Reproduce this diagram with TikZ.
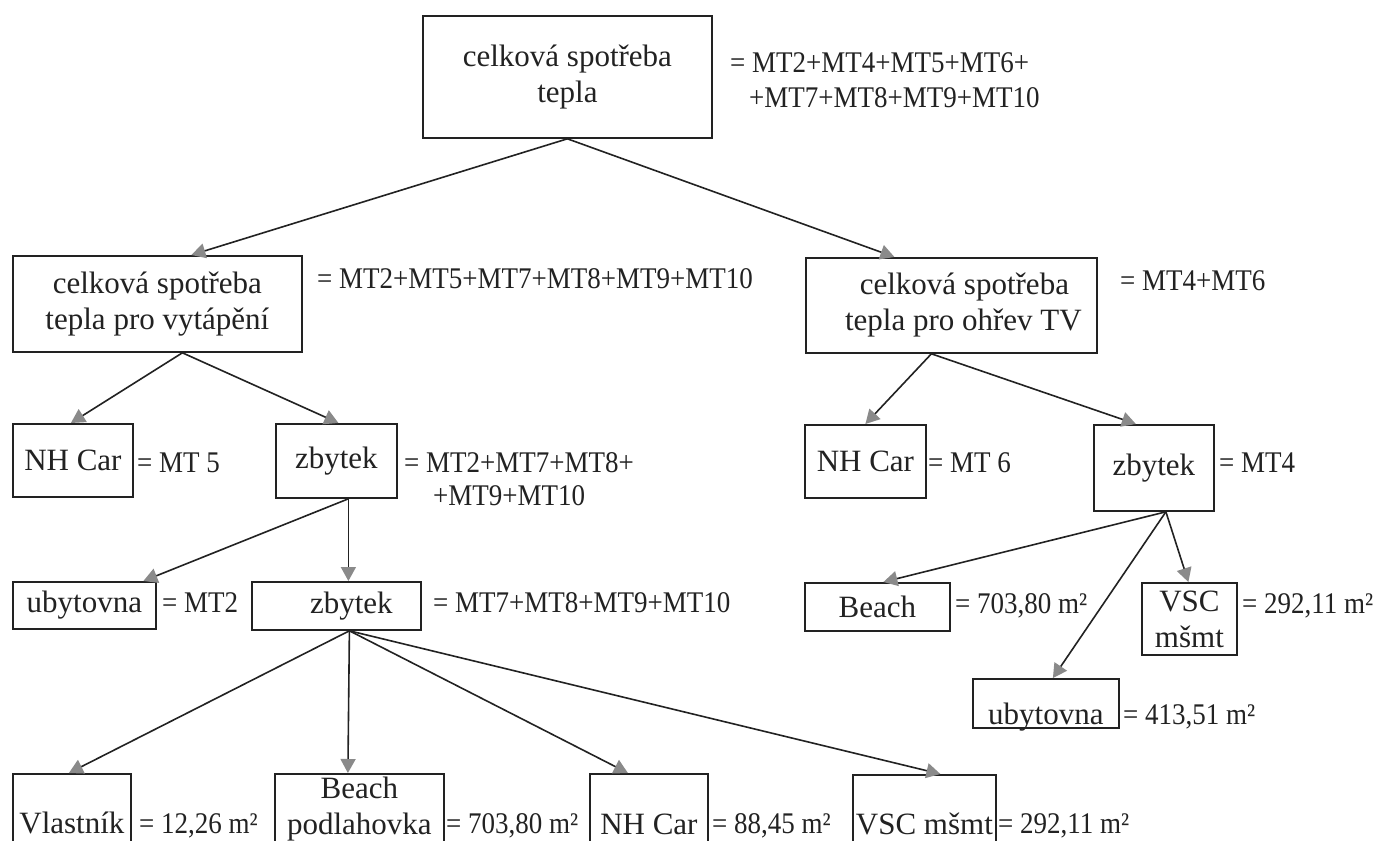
\documentclass[tikz,border=0pt]{standalone}
\usepackage{fontspec}
\setmainfont{Liberation Serif}
\newfontfamily\formfont{Liberation Serif}[FakeStretch=0.9]
\usetikzlibrary{arrows.meta}
\definecolor{tipgray}{HTML}{8A8A8A}
\definecolor{ink}{HTML}{222222}
\tikzset{
  box/.style={draw=ink, line width=1.8pt, inner sep=0pt, align=center, anchor=north west,
    text=ink, font=\fontsize{31pt}{36pt}\selectfont},
  bx/.style 2 args={box, minimum width=#1pt, minimum height=#2pt},
  form/.style={anchor=base west, inner sep=0pt, text=ink, font=\formfont\fontsize{30pt}{35pt}\selectfont},
  link/.style={draw=ink, line width=1.6pt, -{Triangle[length=14pt,width=15pt,color=tipgray]}}
}
\begin{document}
\begin{tikzpicture}[x=1pt,y=-1pt]
\useasboundingbox (0,0) rectangle (1377,841);
\fill[white] (0,0) rectangle (1377,841);
\clip (0,0) rectangle (1377,841);
% boxes
\node[bx={289}{122}] (top) at (422,15) {celková spotřeba\\tepla};
\node[bx={289}{96}] (vyt) at (12,255) {celková spotřeba\\tepla pro vytápění};
\node[bx={291}{95}] (tv) at (805,257) {\hspace*{26pt}celková spotřeba\\\hspace*{24pt}tepla pro ohřev TV};
\node[bx={120}{73}] (nh1) at (12,423) {NH Car};
\node[bx={121}{74}] (zb1) at (275,423) {zbytek};
\node[bx={121}{73}] (nh2) at (804,424) {NH Car};
\node[bx={120}{86}] (zb2) at (1093,424) {zbytek};
\node[bx={143}{47}] (uby1) at (12,581) {ubytovna};
\node[bx={169}{48}] (zb3) at (251,581) {\hspace*{30pt}zbytek};
\node[bx={145}{48}] (bea2) at (804,582) {Beach};
\node[bx={95}{72}] (vsc2) at (1141,582) {VSC\\mšmt};
\node[bx={146}{49}, text height=43pt, text depth=0pt] (uby2) at (972,678) {ubytovna};
\node[bx={118}{99}] (vl) at (12,773) {Vlastník};
\node[bx={169}{70}] (bp) at (274,773) {Beach\\podlahovka};
\node[bx={118}{100}] (nh3) at (589,773) {NH Car};
\node[bx={143}{98}] (vsc3) at (852,774) {VSC mšmt};
% connectors
\draw[link] (top.south) -- ([xshift=34pt]vyt.north);
\draw[link] (top.south) -- ([xshift=-57pt]tv.north);
\draw[link] ([xshift=25pt]vyt.south) -- ([xshift=-2pt]nh1.north);
\draw[link] ([xshift=25pt]vyt.south) -- ([xshift=2pt]zb1.north);
\draw[link] ([xshift=-20pt]tv.south) -- (nh2.north);
\draw[link] ([xshift=-20pt]tv.south) -- ([xshift=-18pt]zb2.north);
\draw[link] ([xshift=12pt]zb1.south) -- ([xshift=59pt]uby1.north);
\draw[link] ([xshift=12pt]zb1.south) -- ([xshift=12pt]zb3.north);
\draw[link] ([xshift=12pt]zb2.south) -- ([xshift=6pt]bea2.north);
\draw[link] ([xshift=12pt]zb2.south) -- ([xshift=7pt]uby2.north);
\draw[link] ([xshift=12pt]zb2.south) -- ([xshift=-1pt]vsc2.north);
\draw[link] ([xshift=13pt]zb3.south) -- ([xshift=-3pt]vl.north);
\draw[link] ([xshift=13pt]zb3.south) -- ([xshift=-11.5pt]bp.north);
\draw[link] ([xshift=13pt]zb3.south) -- ([xshift=-21pt]nh3.north);
\draw[link] ([xshift=13pt]zb3.south) -- ([xshift=16pt]vsc3.north);
% formulas
\node[form] (fTop1) at (730,72) {= MT2+MT4+MT5+MT6+};
\node[form] (fTop2) at (749,107) {+MT7+MT8+MT9+MT10};
\node[form] (fVyt) at (317,288) {= MT2+MT5+MT7+MT8+MT9+MT10};
\node[form] (fTv) at (1120,290) {= MT4+MT6};
\node[form] (fNh1) at (137,472) {= MT 5};
\node[form] (fZb1a) at (404,472) {= MT2+MT7+MT8+};
\node[form] (fZb1b) at (433,505) {+MT9+MT10};
\node[form] (fNh2) at (928,472) {= MT 6};
\node[form] (fZb2) at (1219,472) {= MT4};
\node[form] (fUby1) at (162,612) {= MT2};
\node[form] (fZb3) at (433,612) {= MT7+MT8+MT9+MT10};
\node[form] (fBea2) at (955,613) {= 703,80 m²};
\node[form] (fVsc2) at (1242,613) {= 292,11 m²};
\node[form] (fUby2) at (1123,724) {= 413,51 m²};
\node[form] (fVl) at (139,833) {= 12,26 m²};
\node[form] (fBp) at (446,833) {= 703,80 m²};
\node[form] (fNh3) at (712,833) {= 88,45 m²};
\node[form] (fVsc3) at (998,833) {= 292,11 m²};
\end{tikzpicture}
\end{document}
